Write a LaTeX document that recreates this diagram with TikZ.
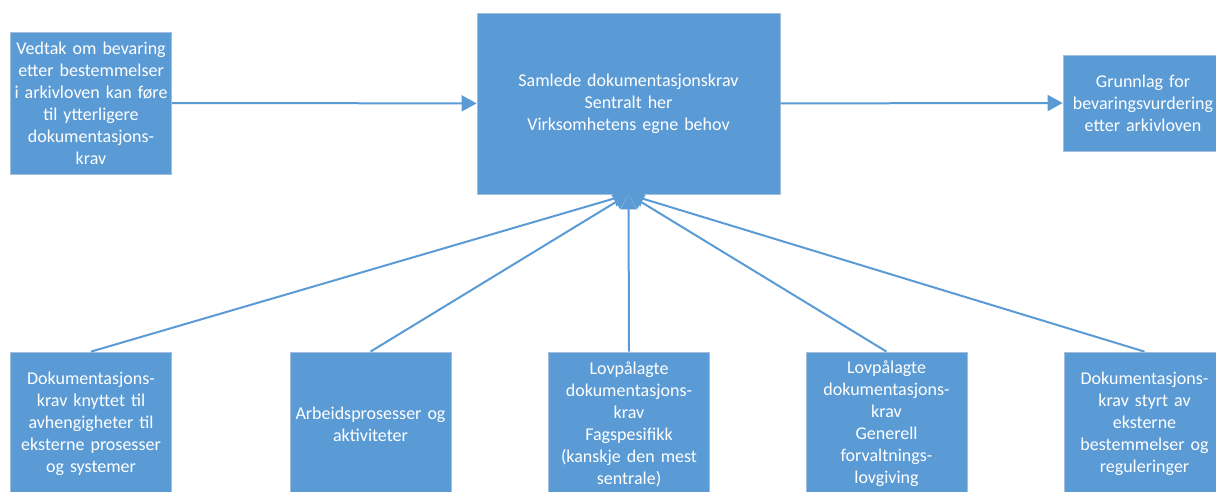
\documentclass[tikz,border=0pt]{standalone}
\usepackage{fontspec}
\setmainfont{Carlito}
\usetikzlibrary{arrows.meta}
\definecolor{boxblue}{HTML}{5B9BD5}
\definecolor{boxedge}{HTML}{A3BEDC}
\definecolor{linkblue}{HTML}{5B9BD5}
\tikzset{
  box/.style={rectangle, fill=boxblue, draw=boxedge, line width=0.8pt, text=white,
    align=center, inner sep=2pt, font=\fontsize{18}{22}\selectfont},
  arr/.style={draw=linkblue, line width=2pt, -{Triangle[length=15pt,width=16pt]}},
}
\begin{document}
\begin{tikzpicture}[x=1pt,y=-1pt]
\useasboundingbox (0,0) rectangle (1216,491);
\begin{scope}
\clip (0,0) rectangle (1216,491);
\node[box, minimum width=161, minimum height=142, text width=157] (vedtak) at (91,103)
  {Vedtak om bevaring\\ etter bestemmelser\\ i arkivloven kan føre\\ til ytterligere\\ dokumentasjons-\\ krav};
\node[box, minimum width=303, minimum height=181, text width=290] (samlet) at (628.5,103.4)
  {Samlede dokumentasjonskrav\\ Sentralt her\\ Virksomhetens egne behov};
\node[box, minimum width=160, minimum height=96, text width=156] (grunnlag) at (1143,103)
  {Grunnlag for\\ \makebox[156pt]{bevaringsvurdering}\\ etter arkivloven};
\node[box, minimum width=161, minimum height=144, text width=157] (b1) at (91,424)
  {Dokumentasjons-\\ krav knyttet til\\ avhengigheter til\\ eksterne prosesser\\ og systemer};
\node[box, minimum width=161, minimum height=144, text width=157] (b2) at (370.5,424)
  {Arbeidsprosesser og\\ aktiviteter};
\node[box, minimum width=161, minimum height=144, text width=157] (b3) at (629,424)
  {Lovpålagte\\ dokumentasjons-\\ krav\\ Fagspesifikk\\ (kanskje den mest\\ sentrale)};
\node[box, minimum width=161, minimum height=144, text width=157] (b4) at (886.5,424)
  {Lovpålagte\\ dokumentasjons-\\ krav\\ Generell\\ forvaltnings-\\ lovgiving};
\node[box, minimum width=161, minimum height=144, text width=157] (b5) at (1144.5,424)
  {Dokumentasjons-\\ krav styrt av\\ eksterne\\ bestemmelser og\\ reguleringer};
\coordinate (hub) at (samlet.south);
\draw[arr] (vedtak.east) -- (samlet.west);
\draw[arr] (samlet.east) -- (grunnlag.west);
\foreach \b in {b1,b2,b3,b4,b5} \draw[arr] (\b.north) -- (hub);
\end{scope}
\end{tikzpicture}
\end{document}
